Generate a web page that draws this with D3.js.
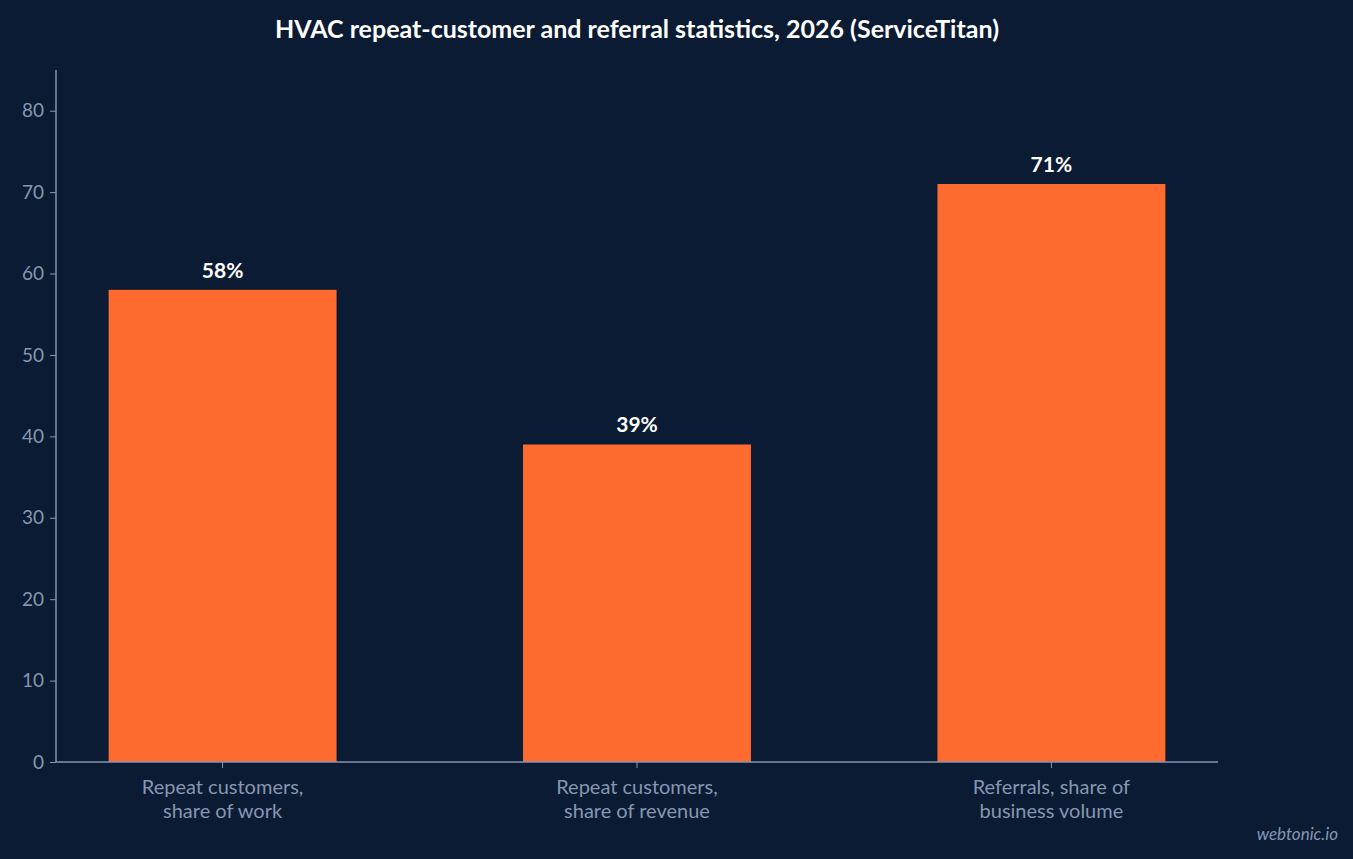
<!DOCTYPE html>
<html>
<head>
<meta charset="utf-8">
<script src="https://cdn.jsdelivr.net/npm/d3@7"></script>
<style>
  body { margin: 0; background: #0b1b33; }
  svg { display: block; font-family: Lato, sans-serif; }
</style>
</head>
<body>
<svg id="canvas" width="1353" height="859"></svg>
<script>
const categories = [
    ['Repeat customers,', 'share of work'],
    ['Repeat customers,', 'share of revenue'],
    ['Referrals, share of', 'business volume']
];
const values = [58, 39, 71];
const yTicks = [0, 10, 20, 30, 40, 50, 60, 70, 80];

const svg = d3.select('#canvas');
const axisColor = '#8796b0';

svg.append('rect')
    .attr('width', 1353).attr('height', 859)
    .attr('fill', '#0b1b33');

const scaleX = d3.scaleBand()
    .domain(d3.range(values.length))
    .range([56, 1218])
    .paddingInner(0.45)
    .paddingOuter(0.127);

const scaleY = d3.scaleLinear()
    .domain([0, 85])
    .range([762, 70]);

// bars
svg.selectAll('rect.bar')
    .data(values)
    .enter()
    .append('rect')
        .attr('class', 'bar')
        .attr('x', (d, i) => scaleX(i))
        .attr('y', d => scaleY(d))
        .attr('width', scaleX.bandwidth())
        .attr('height', d => scaleY(0) - scaleY(d))
        .attr('fill', '#ff6b2e');

// value labels
svg.selectAll('text.val')
    .data(values)
    .enter()
    .append('text')
        .attr('x', (d, i) => scaleX(i) + scaleX.bandwidth() / 2)
        .attr('y', d => scaleY(d) - 12)
        .attr('text-anchor', 'middle')
        .attr('fill', '#ffffff')
        .attr('font-weight', 'bold')
        .attr('font-size', 21)
        .text(d => d + '%');

// y axis
const yAxis = svg.append('g')
    .attr('transform', 'translate(56,0)')
    .call(d3.axisLeft(scaleY).tickValues(yTicks).tickSize(6).tickPadding(6));
yAxis.selectAll('text').attr('fill', axisColor).attr('font-size', 19).attr('font-family', 'Lato');
yAxis.selectAll('line').attr('stroke', axisColor);
yAxis.select('.domain').attr('stroke', axisColor).attr('stroke-width', 1.5).attr('d', 'M0,70V762');

// x axis
const xAxis = svg.append('g')
    .attr('transform', 'translate(0,762)')
    .call(d3.axisBottom(scaleX).tickSize(6).tickFormat(''));
xAxis.selectAll('line').attr('stroke', axisColor);
xAxis.select('.domain').attr('stroke', axisColor).attr('stroke-width', 1.5).attr('d', 'M56,0H1218');

svg.selectAll('text.cat')
    .data(categories)
    .enter()
    .append('text')
        .attr('x', (d, i) => scaleX(i) + scaleX.bandwidth() / 2)
        .attr('y', 794)
        .attr('text-anchor', 'middle')
        .attr('fill', axisColor)
        .attr('font-size', 20)
        .selectAll('tspan')
        .data(d => d)
        .enter()
        .append('tspan')
            .attr('x', function() { return this.parentNode.getAttribute('x'); })
            .attr('dy', (d, i) => i === 0 ? 0 : 24)
            .text(d => d);

// title
svg.append('text')
    .attr('x', 637).attr('y', 38)
    .attr('text-anchor', 'middle')
    .attr('fill', '#ffffff')
    .attr('font-weight', 'bold')
    .attr('font-size', 25)
    .text('HVAC repeat-customer and referral statistics, 2026 (ServiceTitan)');

// watermark
svg.append('text')
    .attr('x', 1338).attr('y', 840)
    .attr('text-anchor', 'end')
    .attr('fill', '#8796b0')
    .attr('font-style', 'italic')
    .attr('font-size', 17)
    .text('webtonic.io');
</script>
</body>
</html>
